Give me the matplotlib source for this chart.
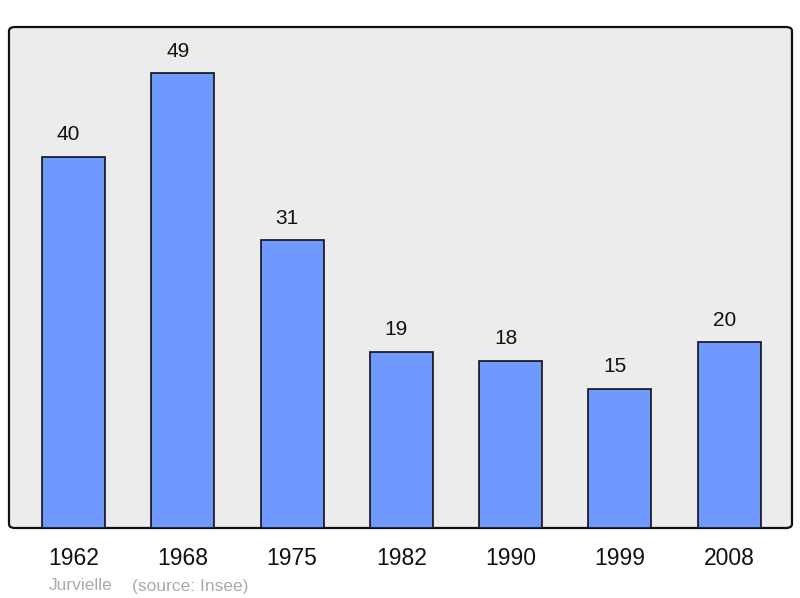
import matplotlib
matplotlib.use("Agg")
import matplotlib.pyplot as plt
from matplotlib.patches import FancyBboxPatch

years = ["1962", "1968", "1975", "1982", "1990", "1999", "2008"]
population = [40, 49, 31, 19, 18, 15, 20]
footer_name = "Jurvielle"
footer_source = "(source: Insee)"

plt.rcParams['font.family'] = ['Liberation Sans', 'DejaVu Sans']

fig = plt.figure(figsize=(8, 5.98), dpi=100)
ax = fig.add_axes([9/800, 70/598, 783/800, 501/598])
ax.set_facecolor('none')

bg = FancyBboxPatch((0, 0), 1, 1, boxstyle="round,pad=0,rounding_size=0.008",
                    transform=ax.transAxes, facecolor='#ececec', edgecolor='#111111',
                    linewidth=1.6, zorder=0, clip_on=False)
ax.add_patch(bg)

x = list(range(len(years)))
ax.bar(x, population, width=0.576, color='#7099ff', edgecolor='#111111',
       linewidth=1.2, zorder=2)
for xi, v in zip(x, population):
    ax.annotate(str(v), (xi, v), xytext=(-3.6, 9), textcoords='offset points',
                ha='center', va='bottom', fontsize=15, color='#111111')

ax.set_xlim(-0.59, 6.574)
ax.set_ylim(0, 54)
for s in ax.spines.values():
    s.set_visible(False)
ax.set_yticks([])
ax.set_xticks(x)
ax.set_xticklabels(years, fontsize=16.5)
ax.tick_params(axis='x', length=0, pad=14, colors='#111111')

fig.text(49/800, 1 - 586/598, footer_name, fontsize=12.5, color='#aaaaaa', va='center', ha='left')
fig.text(132/800, 1 - 586/598, footer_source, fontsize=12.5, color='#aaaaaa', va='center', ha='left')

fig.savefig("out.png", dpi=100)
